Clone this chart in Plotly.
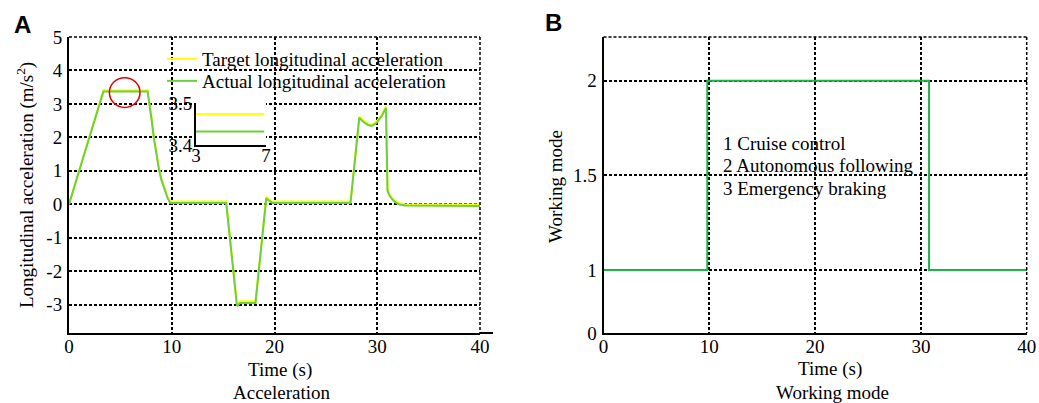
import plotly.graph_objects as go

W, H = 1039, 403

# ---------------- data ----------------
t_target = [0, 3.35, 7.65, 7.85, 8.05, 8.25, 8.5, 8.75, 9.0, 9.3, 9.6, 9.85, 15.3, 16.35, 16.65, 18.15,
            19.2, 19.5, 19.8, 27.4, 28.25, 28.7, 29.1, 29.45, 29.9, 30.4, 30.85, 31.0, 31.2, 31.5, 31.8,
            32.2, 32.7, 40]
a_target = [0, 3.41, 3.41, 3.04, 2.54, 2.04, 1.54, 1.09, 0.76, 0.46, 0.22, 0.08, 0.08, -3.01, -2.90, -2.90,
            0.22, 0.14, 0.08, 0.08, 2.62, 2.49, 2.41, 2.38, 2.46, 2.66, 2.92, 0.44, 0.29, 0.17, 0.09,
            0.03, 0.0, -0.01]
t_actual = [0, 3.35, 7.65, 7.85, 8.05, 8.25, 8.5, 8.75, 9.0, 9.3, 9.6, 9.85, 15.3, 16.35, 16.65, 18.15,
            19.2, 19.5, 19.8, 27.4, 28.25, 28.7, 29.1, 29.45, 29.9, 30.4, 30.85, 31.0, 31.2, 31.5, 31.8,
            32.2, 32.7, 40]
a_actual = [0, 3.37, 3.37, 3.0, 2.5, 2.0, 1.5, 1.05, 0.72, 0.42, 0.18, 0.04, 0.04, -3.05, -2.95, -2.95,
            0.18, 0.1, 0.04, 0.04, 2.58, 2.45, 2.37, 2.34, 2.42, 2.62, 2.88, 0.4, 0.25, 0.13, 0.05,
            -0.01, -0.04, -0.05]

inset_t = [3, 6.9]
inset_target = [3.473, 3.473]
inset_actual = [3.432, 3.432]

t_mode = [0, 9.81, 30.77, 40]
mode = [1, 2, 1, 1]

acc_ticks = [-3, -2, -1, 0, 1, 2, 3, 4, 5]
acc_ticktext = ["-3", "-2", "-1", "0", "1", "2", "3", "4", "5"]
time_ticks = [0, 10, 20, 30, 40]
mode_ticks = [0.667, 1, 1.5, 2]
mode_ticktext = ["0", "1", "1.5", "2"]

legend_names = ["Target longitudinal acceleration", "Actual longitudinal acceleration"]
mode_lines = ["1 Cruise control", "2 Autonomous following", "3 Emergency braking"]

YELLOW = "#ffff00"
GREEN = "#6ccf3c"
MODE_GREEN = "#1db34b"
FONT = "Liberation Serif"
FS = 19


def px(x):
    return x / W


def py(y):
    return 1 - y / H


# plot-area pixel geometry
A_L, A_R, TOP, BOT = 69, 480, 37, 333
B_L, B_R = 603.5, 1026.7
I_L, I_R, I_T, I_B = 196, 266, 103, 145

fig = go.Figure()

fig.add_trace(go.Scatter(x=t_target, y=a_target, mode="lines", name=legend_names[0],
                         line=dict(color=YELLOW, width=2), xaxis="x", yaxis="y", legend="legend"))
fig.add_trace(go.Scatter(x=t_actual, y=a_actual, mode="lines", name=legend_names[1],
                         line=dict(color=GREEN, width=2), xaxis="x", yaxis="y", legend="legend2"))
fig.add_trace(go.Scatter(x=t_mode, y=mode, mode="lines", line_shape="hv", showlegend=False,
                         line=dict(color=MODE_GREEN, width=2), xaxis="x2", yaxis="y2"))
fig.add_trace(go.Scatter(x=inset_t, y=inset_target, mode="lines", showlegend=False,
                         line=dict(color=YELLOW, width=2), xaxis="x3", yaxis="y3"))
fig.add_trace(go.Scatter(x=inset_t, y=inset_actual, mode="lines", showlegend=False,
                         line=dict(color=GREEN, width=2), xaxis="x3", yaxis="y3"))

grid = dict(showgrid=True, gridcolor="black", gridwidth=1.5, griddash="3px,2px",
            showline=True, linecolor="black", linewidth=2, zeroline=False, automargin=False,
            ticks="", tickfont=dict(family=FONT, size=FS, color="black"))
inset_ax = dict(showgrid=False, zeroline=False, showline=True, linecolor="black", linewidth=2,
                ticks="inside", ticklen=4, tickcolor="black", automargin=False,
                tickfont=dict(family=FONT, size=FS, color="black"))
leg = dict(xanchor="left", yanchor="middle", bgcolor="rgba(0,0,0,0)", borderwidth=0, itemwidth=30,
           font=dict(family=FONT, size=FS, color="black"))

fig.update_layout(
    width=W, height=H, margin=dict(l=0, r=0, t=0, b=0, pad=0, autoexpand=False),
    paper_bgcolor="white", plot_bgcolor="white",
    font=dict(family=FONT, size=FS, color="black"),
    xaxis=dict(domain=[px(A_L), px(A_R)], range=[0, 40], tickvals=time_ticks,
               anchor="y", ticklabelstandoff=-5, **grid),
    yaxis=dict(domain=[py(BOT), py(TOP)], range=[-3.85, 5], tickvals=acc_ticks,
               ticktext=acc_ticktext, anchor="x", ticklabelstandoff=1, **grid),
    xaxis2=dict(domain=[px(B_L), px(B_R)], range=[0, 40], tickvals=time_ticks,
                anchor="y2", ticklabelstandoff=-5, **grid),
    yaxis2=dict(domain=[py(BOT), py(TOP)], range=[0.667, 2.231], tickvals=mode_ticks,
                ticktext=mode_ticktext, anchor="x2", ticklabelstandoff=1, **grid),
    xaxis3=dict(domain=[px(I_L), px(I_R)], range=[3, 7], tickvals=[3, 7], anchor="y3",
                ticklabelstandoff=-8, **inset_ax),
    yaxis3=dict(domain=[py(I_B), py(I_T)], range=[3.4, 3.5], tickvals=[3.4, 3.5],
                ticktext=["3.4", "3.5"], anchor="x3", ticklabelstandoff=-2, **inset_ax),
    legend=dict(x=px(162), y=py(59), **leg),
    legend2=dict(x=px(162), y=py(81), **leg),
    showlegend=True,
)

dash = dict(color="black", width=1.5, dash="3px,2px")
shapes = [
    # dashed top / right borders
    dict(type="line", xref="paper", yref="paper", x0=px(A_L), x1=px(A_R), y0=py(TOP), y1=py(TOP), line=dash),
    dict(type="line", xref="paper", yref="paper", x0=px(A_R), x1=px(A_R), y0=py(TOP), y1=py(BOT), line=dash),
    dict(type="line", xref="paper", yref="paper", x0=px(B_L), x1=px(B_R), y0=py(TOP), y1=py(TOP), line=dash),
    dict(type="line", xref="paper", yref="paper", x0=px(B_R), x1=px(B_R), y0=py(TOP), y1=py(BOT), line=dash),
    # bottom axis extension of panel A
    dict(type="line", xref="paper", yref="paper", x0=px(A_R), x1=px(493), y0=py(BOT), y1=py(BOT),
         line=dict(color="black", width=2)),
    # red highlight circle
    dict(type="circle", xref="x", yref="y", x0=5.42 - 1.49, x1=5.42 + 1.49, y0=3.34 - 0.445,
         y1=3.34 + 0.445, line=dict(color="#e00000", width=1.5)),
]
fig.update_layout(shapes=shapes)


def note(text, x, y, xanchor="center", **kw):
    return dict(text=text, x=px(x), y=py(y), xref="paper", yref="paper", showarrow=False,
                xanchor=xanchor, yanchor="middle", **kw)


ann = [
    note("<b>A</b>", 22, 24, font=dict(family="Liberation Sans", size=24, color="black")),
    note("<b>B</b>", 553, 23, font=dict(family="Liberation Sans", size=24, color="black")),
    note("Longitudinal acceleration (m/s<sup>2</sup>)", 25, 185, textangle=-90),
    note("Time (s)", 280, 370),
    note("Acceleration", 282, 392),
    note("Working mode", 555, 187, textangle=-90),
    note("Time (s)", 830, 369),
    note("Working mode", 832, 392),
]
for i, s in enumerate(mode_lines):
    ann.append(note(s, 721, 143 + 22.8 * i, xanchor="left"))
fig.update_layout(annotations=ann)

fig.write_html("out.html")
